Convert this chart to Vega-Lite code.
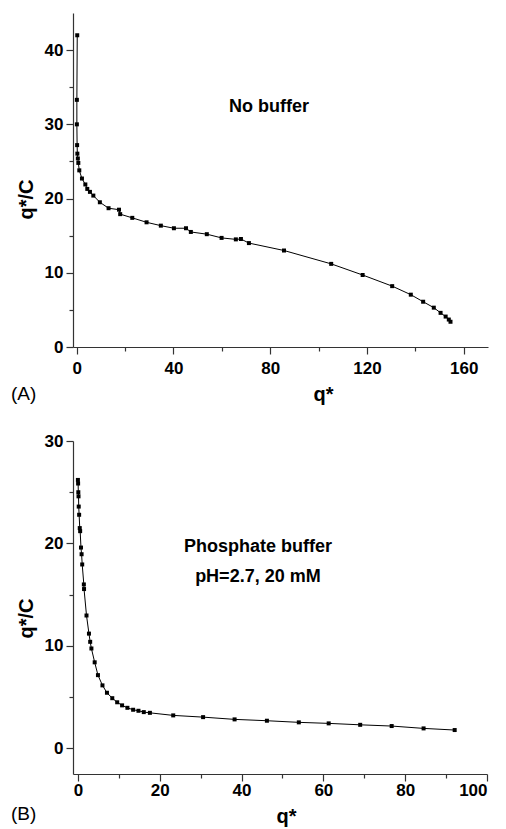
{
  "$schema": "https://vega.github.io/schema/vega-lite/v6.json",
  "background": "white",
  "padding": {"left": 11, "top": 13, "right": 10, "bottom": 2},
  "spacing": 28,
  "config": {
    "view": {"stroke": null},
    "font": "Liberation Sans",
    "axis": {
      "grid": false,
      "domainColor": "#333333",
      "tickColor": "#333333",
      "labelColor": "black",
      "titleColor": "black",
      "labelFont": "Liberation Sans",
      "titleFont": "Liberation Sans",
      "labelFontSize": 17,
      "labelFontWeight": "bold",
      "titleFontSize": 20,
      "titleFontWeight": "bold",
      "domainWidth": 1.2,
      "tickWidth": 1.2,
      "labelPadding": 3
    },
    "title": {"font": "Liberation Sans", "fontSize": 19, "fontWeight": "normal", "color": "black"}
  },
  "datasets": {
    "a": [
      {"q": 0.25, "v": 42.0}, {"q": 0.1, "v": 33.3}, {"q": 0.1, "v": 30.0}, {"q": 0.2, "v": 27.2},
      {"q": 0.3, "v": 26.05}, {"q": 0.5, "v": 25.4}, {"q": 0.7, "v": 24.8}, {"q": 1.1, "v": 23.8},
      {"q": 2.2, "v": 22.7}, {"q": 3.6, "v": 21.9}, {"q": 4.4, "v": 21.3}, {"q": 5.5, "v": 20.9},
      {"q": 6.9, "v": 20.4}, {"q": 9.6, "v": 19.5}, {"q": 13.2, "v": 18.7}, {"q": 17.5, "v": 18.5},
      {"q": 18.0, "v": 17.9}, {"q": 23.0, "v": 17.4}, {"q": 28.9, "v": 16.8}, {"q": 34.8, "v": 16.35},
      {"q": 40.2, "v": 16.0}, {"q": 45.2, "v": 16.0}, {"q": 47.2, "v": 15.5}, {"q": 53.8, "v": 15.2},
      {"q": 59.9, "v": 14.7}, {"q": 65.8, "v": 14.5}, {"q": 67.9, "v": 14.55}, {"q": 71.2, "v": 14.0},
      {"q": 85.7, "v": 13.0}, {"q": 105.2, "v": 11.2}, {"q": 118.2, "v": 9.7}, {"q": 130.4, "v": 8.2},
      {"q": 138.1, "v": 7.05}, {"q": 143.2, "v": 6.1}, {"q": 147.6, "v": 5.3}, {"q": 150.4, "v": 4.6},
      {"q": 152.5, "v": 4.1}, {"q": 153.8, "v": 3.7}, {"q": 154.5, "v": 3.4}
    ],
    "b": [
      {"q": 0.0, "v": 26.2}, {"q": 0.05, "v": 25.85}, {"q": 0.1, "v": 25.0}, {"q": 0.15, "v": 24.6},
      {"q": 0.2, "v": 23.6}, {"q": 0.3, "v": 22.8}, {"q": 0.45, "v": 21.5}, {"q": 0.55, "v": 21.2},
      {"q": 0.75, "v": 19.6}, {"q": 0.9, "v": 18.95}, {"q": 1.05, "v": 17.95}, {"q": 1.45, "v": 16.0},
      {"q": 1.5, "v": 15.55}, {"q": 2.1, "v": 12.97}, {"q": 2.7, "v": 11.2}, {"q": 3.0, "v": 10.4},
      {"q": 3.3, "v": 9.75}, {"q": 4.1, "v": 8.4}, {"q": 4.9, "v": 7.15}, {"q": 6.0, "v": 6.15},
      {"q": 7.1, "v": 5.43}, {"q": 8.4, "v": 4.9}, {"q": 9.6, "v": 4.5}, {"q": 10.8, "v": 4.2},
      {"q": 12.1, "v": 3.96}, {"q": 13.5, "v": 3.77}, {"q": 14.8, "v": 3.67}, {"q": 16.1, "v": 3.54},
      {"q": 17.6, "v": 3.47}, {"q": 23.3, "v": 3.22}, {"q": 30.6, "v": 3.05}, {"q": 38.3, "v": 2.83},
      {"q": 46.2, "v": 2.7}, {"q": 54.0, "v": 2.54}, {"q": 61.3, "v": 2.44}, {"q": 69.0, "v": 2.3},
      {"q": 76.7, "v": 2.18}, {"q": 84.5, "v": 1.95}, {"q": 92.1, "v": 1.79}
    ],
    "noteA": [{"q": 79.5, "v": 32.4, "label": "No buffer"}],
    "noteB": [
      {"q": 44, "v": 19.7, "label": "Phosphate buffer"},
      {"q": 44, "v": 16.75, "label": "pH=2.7, 20 mM"}
    ]
  },
  "vconcat": [
    {
      "width": 415,
      "height": 334,
      "title": {"text": "(A)", "orient": "bottom", "anchor": "start", "frame": "group", "dx": -62, "offset": -19},
      "encoding": {
        "x": {
          "field": "q", "type": "quantitative",
          "scale": {"domain": [-1.5, 170], "nice": false, "zero": false},
          "axis": {
            "title": "q*", "titleX": 250, "titlePadding": 8, "labelPadding": 6,
            "values": [0, 20, 40, 60, 80, 100, 120, 140, 160],
            "labelExpr": "datum.value % 40 === 0 ? datum.label : ''",
            "tickSize": {"condition": {"test": "datum.value % 40 === 0", "value": 7}, "value": 4}
          }
        },
        "y": {
          "field": "v", "type": "quantitative",
          "scale": {"domain": [0, 45], "nice": false, "zero": false},
          "axis": {
            "title": "q*/C", "titleY": 186, "titlePadding": 8,
            "values": [0, 5, 10, 15, 20, 25, 30, 35, 40],
            "labelExpr": "datum.value % 10 === 0 ? datum.label : ''",
            "tickSize": {"condition": {"test": "datum.value % 10 === 0", "value": 7}, "value": 4}
          }
        }
      },
      "layer": [
        {"data": {"name": "a"}, "mark": {"type": "line", "color": "black", "strokeWidth": 1}, "encoding": {"order": {"value": null}}},
        {"data": {"name": "a"}, "mark": {"type": "point", "shape": "square", "filled": true, "color": "black", "opacity": 1, "size": 16}},
        {"data": {"name": "noteA"}, "mark": {"type": "text", "font": "Liberation Sans", "fontSize": 18, "fontWeight": "bold", "color": "black"}, "encoding": {"text": {"field": "label"}}}
      ]
    },
    {
      "width": 414,
      "height": 333,
      "title": {"text": "(B)", "orient": "bottom", "anchor": "start", "frame": "group", "dx": -62, "offset": -21},
      "encoding": {
        "x": {
          "field": "q", "type": "quantitative",
          "scale": {"domain": [-1.2, 100], "nice": false, "zero": false},
          "axis": {
            "title": "q*", "titleX": 213, "titlePadding": 8, "labelPadding": 1,
            "values": [0, 10, 20, 30, 40, 50, 60, 70, 80, 90, 100],
            "labelExpr": "datum.value % 20 === 0 ? datum.label : ''",
            "tickSize": {"condition": {"test": "datum.value % 20 === 0", "value": 7}, "value": 4}
          }
        },
        "y": {
          "field": "v", "type": "quantitative",
          "scale": {"domain": [-2.5, 30], "nice": false, "zero": false},
          "axis": {
            "title": "q*/C", "titleY": 177, "titlePadding": 8,
            "values": [0, 5, 10, 15, 20, 25, 30],
            "labelExpr": "datum.value % 10 === 0 ? datum.label : ''",
            "tickSize": {"condition": {"test": "datum.value % 10 === 0", "value": 7}, "value": 4}
          }
        }
      },
      "layer": [
        {"data": {"name": "b"}, "mark": {"type": "line", "color": "black", "strokeWidth": 1}, "encoding": {"order": {"value": null}}},
        {"data": {"name": "b"}, "mark": {"type": "point", "shape": "square", "filled": true, "color": "black", "opacity": 1, "size": 16}},
        {"data": {"name": "noteB"}, "mark": {"type": "text", "font": "Liberation Sans", "fontSize": 18, "fontWeight": "bold", "color": "black"}, "encoding": {"text": {"field": "label"}}}
      ]
    }
  ]
}
